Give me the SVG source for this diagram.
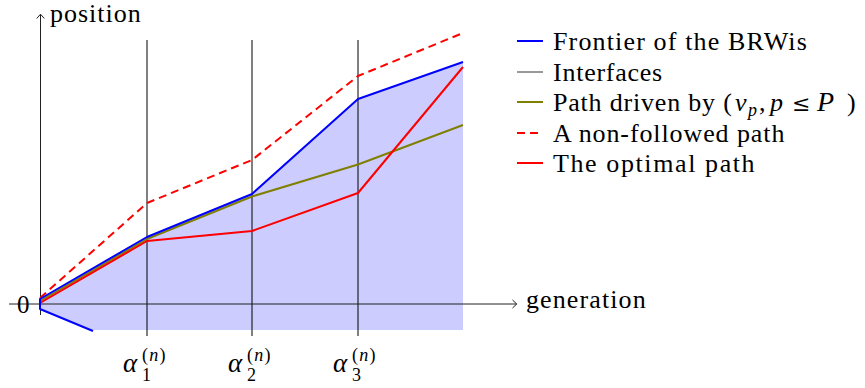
<svg xmlns="http://www.w3.org/2000/svg" width="865" height="388" viewBox="0 0 865 388">
<rect width="865" height="388" fill="#fff"/>
<g id="fill">
<polygon points="40,300 147,237 252,194 358,99 463,62 463,330 93,330 40,310" fill="#ccccff"/>
</g>
<g id="interfaces" stroke="#000" stroke-width="1" fill="none">
<line x1="147" y1="40" x2="147" y2="336"/>
<line x1="252" y1="40" x2="252" y2="336"/>
<line x1="358" y1="40" x2="358" y2="336"/>
</g>
<g id="axes">
<g stroke="#222" stroke-width="1" fill="none">
<line x1="40.5" y1="315" x2="40.5" y2="14.5"/>
<polyline points="36.7,18.5 40.5,14.2 44.3,18.5"/>
<line x1="9" y1="304" x2="516.5" y2="304"/>
<polyline points="512.5,300 516.8,304 512.5,308"/>
</g>
<text font-family="Liberation Serif" font-size="26" x="50" y="22" letter-spacing="1">position</text>
<text font-family="Liberation Serif" font-size="26" x="526" y="308" letter-spacing="1.1">generation</text>
<text font-family="Liberation Serif" font-size="25" x="17" y="313">0</text>
</g>
<g id="connectors" fill="none" stroke-width="2" stroke-linejoin="round">
<polyline stroke="#ff0000" stroke-dasharray="8 5" points="40,298 147,203 252,160 358,76 463,33"/>
<polyline stroke="#808000" points="40,301 147,239 252,196.5 358,164.5 463,125"/>
<polyline stroke="#ff0000" points="40,303 147,241 252,231 358,193 463,67"/>
<polyline stroke="#0000ff" points="93,331 40,309 40,299 147,237 252,194 358,99 463,62"/>
</g>
<g id="labels">
<g id="alpha1">
<text font-family="Liberation Serif" font-size="27" font-style="italic" x="123" y="372">α</text>
<text font-family="Liberation Serif" font-size="18" x="142" y="381">1</text>
<text font-family="Liberation Serif" font-size="18" x="142" y="361" letter-spacing="1.3">(<tspan font-style="italic">n</tspan>)</text>
</g>
<g id="alpha2">
<text font-family="Liberation Serif" font-size="27" font-style="italic" x="228" y="372">α</text>
<text font-family="Liberation Serif" font-size="18" x="247" y="381">2</text>
<text font-family="Liberation Serif" font-size="18" x="247" y="361" letter-spacing="1.3">(<tspan font-style="italic">n</tspan>)</text>
</g>
<g id="alpha3">
<text font-family="Liberation Serif" font-size="27" font-style="italic" x="333" y="372">α</text>
<text font-family="Liberation Serif" font-size="18" x="352" y="381">3</text>
<text font-family="Liberation Serif" font-size="18" x="352" y="361" letter-spacing="1.3">(<tspan font-style="italic">n</tspan>)</text>
</g>
</g>
<g id="legend">
<g id="leg-frontier">
<line stroke="#0000ff" stroke-width="2" x1="517" y1="41" x2="543" y2="41"/>
<text font-family="Liberation Serif" font-size="26" x="553" y="50" letter-spacing="1.15">Frontier of the BRWis</text>
</g>
<g id="leg-interfaces">
<line stroke="#333" stroke-width="1" x1="517" y1="72" x2="543" y2="72"/>
<text font-family="Liberation Serif" font-size="26" x="553" y="80.5" letter-spacing="0.75">Interfaces</text>
</g>
<g id="leg-path">
<line stroke="#808000" stroke-width="2" x1="517" y1="102" x2="543" y2="102"/>
<text font-family="Liberation Serif" font-size="26" x="553" y="111" letter-spacing="0.8">Path driven by (</text>
<text font-family="Liberation Serif" font-size="26" font-style="italic" x="735" y="111">v</text>
<text font-family="Liberation Serif" font-size="18" font-style="italic" x="748" y="116">p</text>
<text font-family="Liberation Serif" font-size="26" x="759" y="111">,</text>
<text font-family="Liberation Serif" font-size="26" font-style="italic" x="770" y="111">p</text>
<text font-family="DejaVu Serif" font-size="22" x="792" y="111">&#8804;</text>
<text font-family="Liberation Serif" font-size="28" font-style="italic" x="817" y="111">P</text>
<text font-family="Liberation Serif" font-size="26" x="847" y="111">)</text>
</g>
<g id="leg-nonfollowed">
<line stroke="#ff0000" stroke-width="2" stroke-dasharray="8 5" x1="517" y1="133" x2="543" y2="133"/>
<text font-family="Liberation Serif" font-size="26" x="553" y="141.5" letter-spacing="0.9">A non-followed path</text>
</g>
<g id="leg-optimal">
<line stroke="#ff0000" stroke-width="2" x1="517" y1="163" x2="543" y2="163"/>
<text font-family="Liberation Serif" font-size="26" x="553" y="172" letter-spacing="1.6">The optimal path</text>
</g>
</g>
</svg>
